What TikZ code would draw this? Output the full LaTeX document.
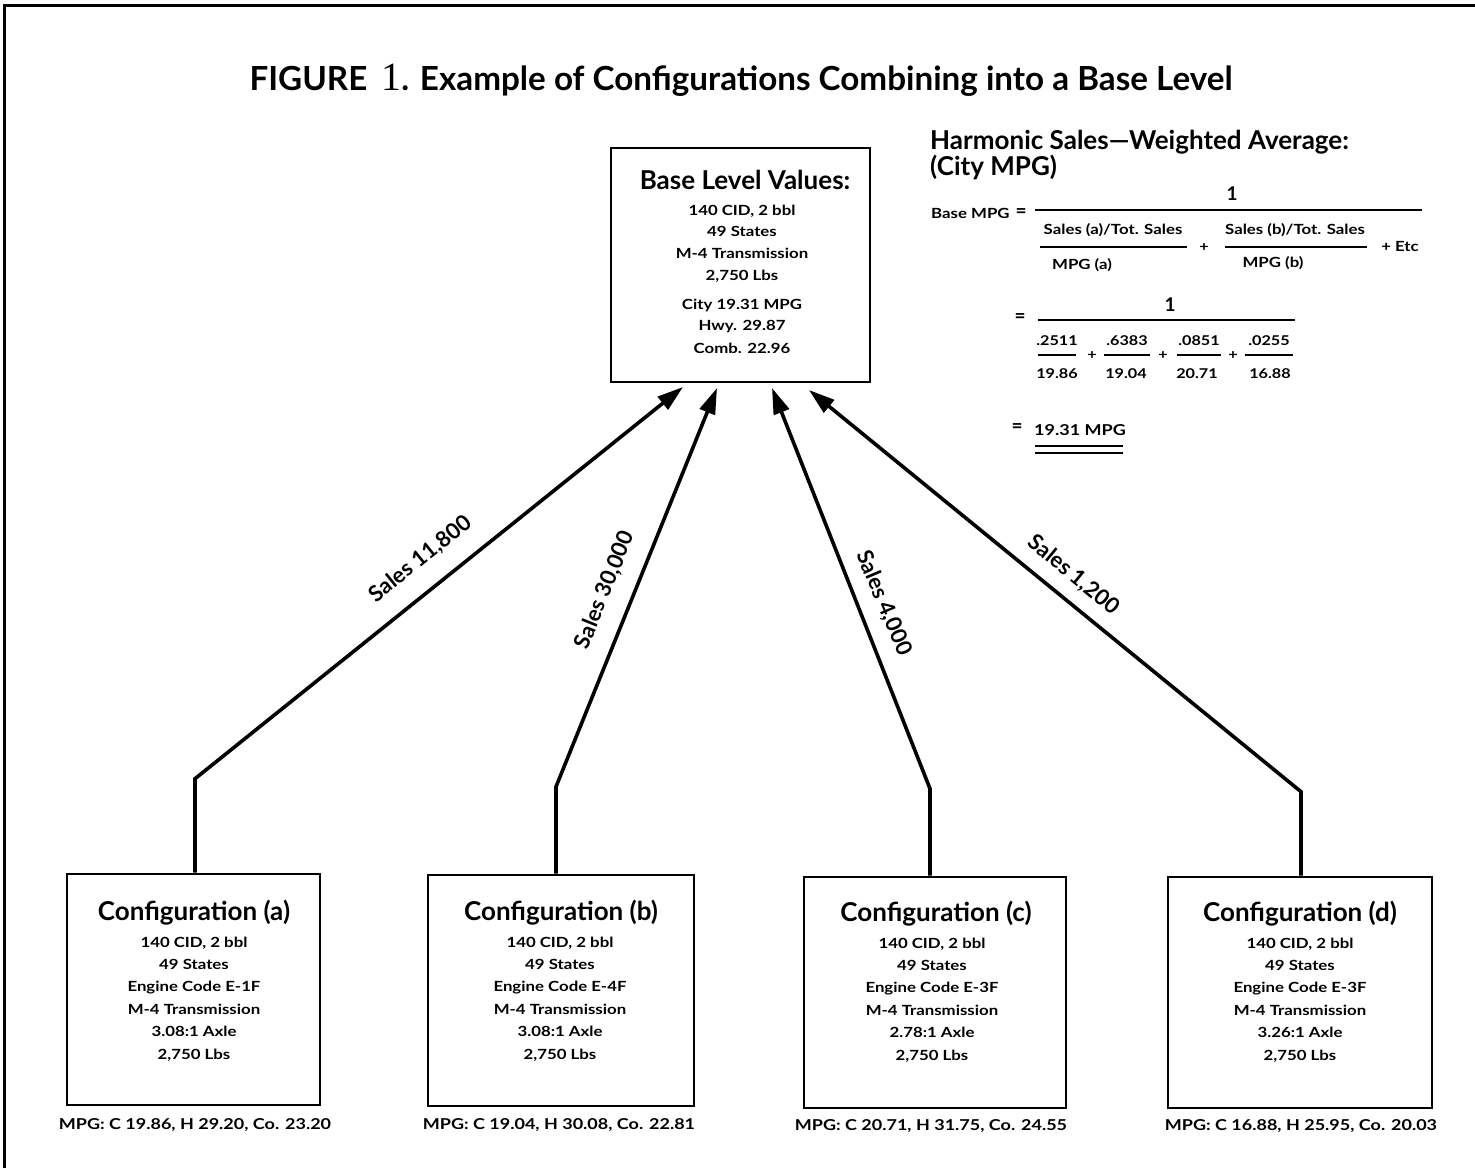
\documentclass[tikz,border=0pt]{standalone}
\usepackage{fontspec}
\setmainfont{Lato}
\newfontfamily\oneserif{Liberation Serif}
\newfontfamily\widefont[FakeStretch=1.2]{Lato}
\usetikzlibrary{arrows.meta}
\newcommand\fsz[1]{\fontsize{#1}{#1}\selectfont}
\tikzset{
  box/.style={draw, line width=2.6pt, inner sep=0pt},
  ln/.style={font=\widefont\fsz{14}\bfseries, inner sep=0pt, anchor=base},
  ttl/.style={font=\fsz{26}\bfseries, inner sep=0pt, anchor=base},
  sm/.style={font=\widefont\fsz{14}\bfseries, inner sep=0pt},
  num/.style={font=\widefont\fsz{13.5}\bfseries, inner sep=0pt},
  big/.style={font=\fsz{19}\bfseries, inner sep=0pt},
  mpg/.style={font=\widefont\fsz{15}\bfseries, inner sep=0pt},
  sales/.style={font=\fsz{22}\bfseries, inner sep=0pt},
  arr/.style={line width=3.6pt, line join=miter, -{Triangle[length=26pt,width=16pt]}},
  bar/.style={line width=1.6pt},
}
\begin{document}
\begin{tikzpicture}[x=1pt,y=-1pt]
\useasboundingbox (0,0) rectangle (1475,1168);
% frame
\draw[line width=3pt] (4,1168) -- (4,5) -- (1475,5);
% title
\node[font=\fsz{33.2}\bfseries, inner sep=0pt] (title) at (741,80)
  {FIGURE\hspace{14pt}{\oneserif\mdseries\fsz{40}1}. Example of Configurations Combining into a Base Level};

% base level box
\node[box, minimum width=259pt, minimum height=234pt] (bl) at (740.5,265) {};
\node[ttl] (blt) at (745,189) {Base Level Values:};
\node[ln] (bl1) at (742,215) {140 CID, 2 bbl};
\node[ln] (bl2) at (742,236.5) {49 States};
\node[ln] (bl3) at (742,258) {M-4 Transmission};
\node[ln] (bl4) at (742,280) {2,750 Lbs};
\node[ln] (bl5) at (742,309) {City 19.31 MPG};
\node[ln] (bl6) at (742,330.5) {Hwy. 29.87};
\node[ln] (bl7) at (742,353) {Comb. 22.96};

% configuration boxes
\node[box, minimum width=253pt, minimum height=231pt] (ca) at (193.5,989.5) {};
\node[box, minimum width=266pt, minimum height=231pt] (cb) at (561,990.5) {};
\node[box, minimum width=262pt, minimum height=231pt] (cc) at (935,992.5) {};
\node[box, minimum width=264pt, minimum height=231pt] (cd) at (1300,992.5) {};

\node[ttl] (cat) at (194,920) {Configuration (a)};
\node[ttl] (cbt) at (561,920) {Configuration (b)};
\node[ttl] (cct) at (936,921) {Configuration (c)};
\node[ttl] (cdt) at (1300,921) {Configuration (d)};

\foreach \t [count=\i] in {{140 CID, 2 bbl},{49 States},{Engine Code E-1F},{M-4 Transmission},{3.08:1 Axle},{2,750 Lbs}}
  \node[ln] (a\i) at (194,{947+22.4*(\i-1)}) {\t};
\foreach \t [count=\i] in {{140 CID, 2 bbl},{49 States},{Engine Code E-4F},{M-4 Transmission},{3.08:1 Axle},{2,750 Lbs}}
  \node[ln] (b\i) at (560,{947+22.4*(\i-1)}) {\t};
\foreach \t [count=\i] in {{140 CID, 2 bbl},{49 States},{Engine Code E-3F},{M-4 Transmission},{2.78:1 Axle},{2,750 Lbs}}
  \node[ln] (c\i) at (932,{948+22.4*(\i-1)}) {\t};
\foreach \t [count=\i] in {{140 CID, 2 bbl},{49 States},{Engine Code E-3F},{M-4 Transmission},{3.26:1 Axle},{2,750 Lbs}}
  \node[ln] (d\i) at (1300,{948+22.4*(\i-1)}) {\t};

% MPG labels
\node[mpg] (ma) at (195,1125) {MPG: C 19.86, H 29.20, Co. 23.20};
\node[mpg] (mb) at (559,1125) {MPG: C 19.04, H 30.08, Co. 22.81};
\node[mpg] (mc) at (931,1126) {MPG: C 20.71, H 31.75, Co. 24.55};
\node[mpg] (md) at (1301,1126) {MPG: C 16.88, H 25.95, Co. 20.03};

% arrow tips on base box
\coordinate (ta) at (683,387);
\coordinate (tb) at (717,388);
\coordinate (tc) at (772,388);
\coordinate (td) at (809,390);

\draw[arr] ([xshift=1.5pt]ca.north) -- ++(0,-94) -- (ta);
\draw[arr] ([xshift=-5pt]cb.north) -- ++(0,-87) -- (tb);
\draw[arr] ([xshift=-5pt]cc.north) -- ++(0,-87) -- (tc);
\draw[arr] ([xshift=1pt]cd.north) -- ++(0,-84) -- (td);

% sales labels
\node[sales, rotate=39] (sa) at (420.5,559) {Sales 11,800};
\node[sales, rotate=68] (sb) at (605,590) {Sales 30,000};
\node[sales, rotate=-67] (sc) at (884,603) {Sales 4,000};
\node[sales, rotate=-39.5] (sd) at (1073.5,575) {Sales 1,200};

% harmonic formula
\node[font=\fsz{26}\bfseries, inner sep=0pt, anchor=west] (h1) at (930,142) {Harmonic Sales---Weighted Average:};
\node[font=\fsz{26}\bfseries, inner sep=0pt, anchor=west] (h2) at (930,167) {(City MPG)};

\node[sm, anchor=west] (bm) at (931,213) {Base MPG};
\node[big] (eq1) at (1021,213) {=};
\draw[bar] (1035,210) -- (1422,210);
\node[big] (one1) at (1232,194) {1};
\node[sm] (na) at (1113,230) {Sales (a)/Tot. Sales};
\draw[bar] (1040,247) -- (1187,247);
\node[sm] (da) at (1082,265) {MPG (a)};
\node[num] (p1) at (1204,248) {+};
\node[sm] (nb) at (1295,230) {Sales (b)/Tot. Sales};
\draw[bar] (1225,247) -- (1367,247);
\node[sm] (db) at (1273,263) {MPG (b)};
\node[sm] (etc) at (1400,246) {+ Etc};

\node[big] (eq2) at (1020,318) {=};
\draw[bar] (1038,320) -- (1295,320);
\node[big] (one2) at (1170,305) {1};
\node[num] (n1) at (1057,341) {.2511};
\draw[bar] (1038,355) -- (1076,355);
\node[num] (d1) at (1057,374) {19.86};
\node[num] (q1) at (1092,356) {+};
\node[num] (n2) at (1127,341) {.6383};
\draw[bar] (1104,355) -- (1150,355);
\node[num] (d2) at (1126,374) {19.04};
\node[num] (q2) at (1163,356) {+};
\node[num] (n3) at (1199,341) {.0851};
\draw[bar] (1177,355) -- (1221,355);
\node[num] (d3) at (1197,374) {20.71};
\node[num] (q3) at (1233,356) {+};
\node[num] (n4) at (1269,341) {.0255};
\draw[bar] (1245,355) -- (1293,355);
\node[num] (d4) at (1270,374) {16.88};

\node[big] (eq3) at (1017,428) {=};
\node[font=\widefont\fsz{15}\bfseries, inner sep=0pt] (res) at (1080,430) {19.31 MPG};
\draw[bar] (1035,446) -- (1123,446);
\draw[bar] (1035,453) -- (1123,453);
\end{tikzpicture}
\end{document}
